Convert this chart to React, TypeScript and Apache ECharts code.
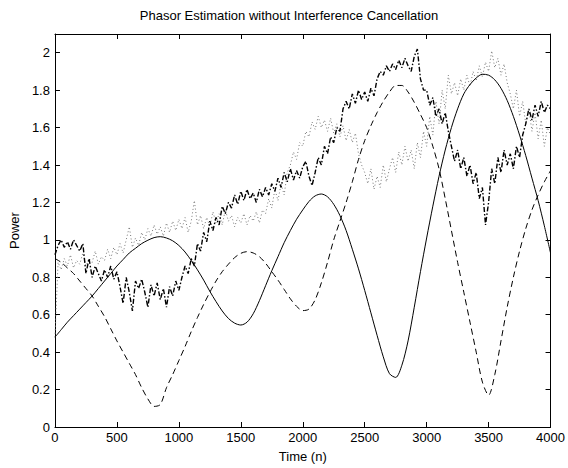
import React, { useEffect, useRef } from "react";
import * as echarts from "echarts";

const TITLE = "Phasor Estimation without Interference Cancellation";
const X_NAME = "Time (n)";
const Y_NAME = "Power";
const X_MIN = 0;
const X_MAX = 4000;
const X_INTERVAL = 500;
const Y_MIN = 0;
const Y_MAX = 2.1;
const Y_INTERVAL = 0.2;

// sample spacing (in n) of the arrays below
const SMOOTH_STEP = 50;
const NOISY_STEP = 25;

// true power, solid curve (n = 0, 50, ..., 4000)
const solidPower = [
  0.48, 0.52, 0.56, 0.595, 0.63, 0.665, 0.7, 0.74, 0.78, 0.82,
  0.86, 0.895, 0.93, 0.955, 0.98, 0.998, 1.012, 1.017, 1.01, 0.995,
  0.97, 0.935, 0.89, 0.84, 0.785, 0.725, 0.67, 0.62, 0.58, 0.555,
  0.545, 0.56, 0.605, 0.675, 0.755, 0.835, 0.91, 0.985, 1.05, 1.11,
  1.16, 1.205, 1.235, 1.245, 1.23, 1.19, 1.13, 1.05, 0.95, 0.845,
  0.73, 0.61, 0.49, 0.375, 0.285, 0.265, 0.33, 0.46, 0.64, 0.83,
  1.01, 1.18, 1.34, 1.48, 1.6, 1.7, 1.78, 1.83, 1.865, 1.885,
  1.88, 1.855, 1.81, 1.745, 1.66, 1.56, 1.45, 1.33, 1.21, 1.075,
  0.93,
];

// second true power, dashed curve (n = 0, 50, ..., 4000)
const dashedPower = [
  0.9, 0.88, 0.85, 0.82, 0.78, 0.74, 0.7, 0.645, 0.59, 0.525,
  0.46, 0.4, 0.34, 0.28, 0.21, 0.15, 0.11, 0.12, 0.21, 0.28,
  0.355, 0.43, 0.51, 0.585, 0.655, 0.72, 0.78, 0.83, 0.87, 0.905,
  0.928, 0.937, 0.93, 0.91, 0.875, 0.83, 0.785, 0.735, 0.685, 0.645,
  0.622, 0.63, 0.68, 0.77, 0.88, 1.0, 1.1, 1.2, 1.31, 1.43,
  1.53, 1.61, 1.68, 1.74, 1.79, 1.825, 1.825, 1.79, 1.735, 1.67,
  1.6, 1.5, 1.38, 1.22, 1.05, 0.88, 0.72, 0.56, 0.4, 0.24,
  0.17, 0.28, 0.46, 0.64, 0.8, 0.94, 1.06, 1.16, 1.24, 1.31,
  1.37,
];

// estimate, heavy dash-dot (n = 0, 25, ..., 4000)
const heavyEstimate = [
  0.92, 0.97, 1.0, 0.96, 0.99, 0.95, 1.0, 0.97, 0.94, 0.98, 0.82, 0.9,
  0.8, 0.86, 0.82, 0.78, 0.84, 0.8, 0.86, 0.79, 0.83, 0.75, 0.66, 0.8,
  0.72, 0.62, 0.78, 0.74, 0.79, 0.72, 0.64, 0.76, 0.7, 0.77, 0.68, 0.74,
  0.64, 0.75, 0.7, 0.78, 0.73, 0.8, 0.86, 0.82, 0.9, 0.86, 0.98, 0.94,
  1.04, 0.99, 1.1, 1.05, 1.12, 1.08, 1.18, 1.14, 1.2, 1.17, 1.24, 1.19,
  1.26, 1.21, 1.27, 1.22, 1.25, 1.2, 1.27, 1.23, 1.28, 1.24, 1.3, 1.26,
  1.33, 1.28, 1.36, 1.31, 1.38, 1.32, 1.37, 1.33, 1.39, 1.42, 1.34, 1.29,
  1.36, 1.44, 1.4, 1.5, 1.46, 1.55, 1.52, 1.6, 1.58, 1.7, 1.74, 1.7,
  1.78, 1.73, 1.8, 1.75, 1.79, 1.74, 1.81, 1.77, 1.86, 1.9, 1.88, 1.93,
  1.9, 1.94, 1.91, 1.96, 1.92, 1.97, 1.93, 1.9, 1.98, 2.02, 1.86, 1.8,
  1.8, 1.72, 1.76, 1.66, 1.7, 1.62, 1.68, 1.58, 1.5, 1.42, 1.48, 1.38,
  1.44, 1.34, 1.4, 1.3, 1.36, 1.22, 1.28, 1.08, 1.2, 1.38, 1.3, 1.44,
  1.36, 1.48, 1.4, 1.46, 1.38, 1.5, 1.44, 1.56, 1.62, 1.7, 1.64, 1.72,
  1.66, 1.74, 1.68, 1.72, 1.7,
];

// estimate, grey dotted (n = 0, 25, ..., 4000)
const dottedEstimate = [
  0.48, 0.88, 0.84, 0.9, 0.86, 0.92, 0.85, 0.89, 0.87, 0.93, 0.86, 0.9,
  0.88, 0.94, 0.87, 0.91, 0.89, 0.95, 0.9, 0.96, 0.92, 0.98, 0.93, 1.0,
  1.07, 0.96, 1.01, 0.97, 1.04, 1.0, 1.06, 1.02, 1.08, 1.03, 1.07, 1.02,
  1.09, 1.04, 1.1, 1.05, 1.11, 1.06, 1.12, 1.04, 1.1, 1.21, 1.08, 1.13,
  1.06, 1.12, 1.07, 1.15, 1.09, 1.14, 1.08, 1.16, 1.1, 1.13, 1.07, 1.12,
  1.09, 1.14, 1.08, 1.13, 1.1, 1.15, 1.09, 1.16, 1.14, 1.22, 1.17, 1.27,
  1.21, 1.3, 1.24, 1.36, 1.4, 1.47, 1.43, 1.52, 1.5, 1.58, 1.55, 1.63,
  1.59, 1.66, 1.6, 1.64, 1.58, 1.65, 1.57, 1.62, 1.55, 1.61, 1.53, 1.59,
  1.52, 1.57, 1.46, 1.4, 1.36, 1.3, 1.38, 1.27, 1.34, 1.28, 1.4, 1.31,
  1.38, 1.44, 1.36, 1.47, 1.4, 1.5, 1.42, 1.48, 1.38, 1.52, 1.44, 1.58,
  1.5, 1.66, 1.56, 1.74, 1.62, 1.8, 1.7, 1.88, 1.78, 1.84, 1.77, 1.86,
  1.8, 1.88, 1.82, 1.9, 1.85, 1.93, 1.87, 1.95, 1.9, 2.01, 1.92, 1.97,
  1.88, 1.94, 1.84, 1.78, 1.7, 1.8, 1.66, 1.74, 1.62, 1.7, 1.58, 1.68,
  1.54, 1.64, 1.5, 1.6, 1.56,
];

const toPairs = (values: number[], step: number) =>
  values.map((v, i) => [i * step, v]);

const FONT = "'Liberation Sans', Arial, Helvetica, sans-serif";
const FS = 13;

export default function App() {
  const ref = useRef<HTMLDivElement>(null);

  useEffect(() => {
    document.body.style.margin = "0";
    if (!ref.current) return;
    const chart = echarts.init(ref.current, undefined, { renderer: "svg" });

    const axisLine = { show: true, onZero: false, lineStyle: { color: "#000", width: 1 } };
    const tick = { show: true, inside: true, length: 5, lineStyle: { color: "#000", width: 1 } };
    const label = { color: "#000", fontSize: FS, fontFamily: FONT };
    const yFmt = (v: number) => (v > 2.05 ? "" : String(Math.round(v * 10) / 10));
    const xFmt = (v: number) => String(v);

    chart.setOption({
      animation: false,
      backgroundColor: "#fff",
      title: {
        text: TITLE,
        left: 284,
        top: 4,
        textAlign: "center",
        textStyle: { color: "#000", fontSize: FS, fontWeight: "normal", fontFamily: FONT },
      },
      grid: { left: 49, right: 17, top: 34, bottom: 41 },
      xAxis: [
        {
          type: "value",
          min: X_MIN,
          max: X_MAX,
          interval: X_INTERVAL,
          name: X_NAME,
          nameLocation: "middle",
          nameGap: 23,
          nameTextStyle: { color: "#000", fontSize: FS, fontFamily: FONT },
          axisLine,
          axisTick: tick,
          axisLabel: { ...label, margin: 4, formatter: xFmt },
          splitLine: { show: false },
        },
        {
          type: "value",
          position: "top",
          min: X_MIN,
          max: X_MAX,
          interval: X_INTERVAL,
          axisLine,
          axisTick: tick,
          axisLabel: { show: false },
          splitLine: { show: false },
        },
      ],
      yAxis: [
        {
          type: "value",
          min: Y_MIN,
          max: Y_MAX,
          interval: Y_INTERVAL,
          name: Y_NAME,
          nameLocation: "middle",
          nameGap: 33,
          nameTextStyle: { color: "#000", fontSize: FS, fontFamily: FONT },
          axisLine,
          axisTick: tick,
          axisLabel: { ...label, margin: 5, formatter: yFmt },
          splitLine: { show: false },
        },
        {
          type: "value",
          position: "right",
          min: Y_MIN,
          max: Y_MAX,
          interval: Y_INTERVAL,
          axisLine,
          axisTick: tick,
          axisLabel: { show: false },
          splitLine: { show: false },
        },
      ],
      series: [
        {
          type: "line",
          data: toPairs(dottedEstimate, NOISY_STEP),
          showSymbol: false,
          lineStyle: { color: "#777", width: 1, type: [1, 2.5] },
        },
        {
          type: "line",
          data: toPairs(heavyEstimate, NOISY_STEP),
          showSymbol: false,
          lineStyle: { color: "#000", width: 1.4, type: [5, 2, 1.5, 2] },
        },
        {
          type: "line",
          data: toPairs(solidPower, SMOOTH_STEP),
          showSymbol: false,
          smooth: 0.3,
          lineStyle: { color: "#000", width: 1 },
        },
        {
          type: "line",
          data: toPairs(dashedPower, SMOOTH_STEP),
          showSymbol: false,
          smooth: 0.3,
          lineStyle: { color: "#000", width: 1, type: [6, 4] },
        },
      ],
    });

    return () => chart.dispose();
  }, []);

  return <div ref={ref} style={{ width: 568, height: 468 }} />;
}
